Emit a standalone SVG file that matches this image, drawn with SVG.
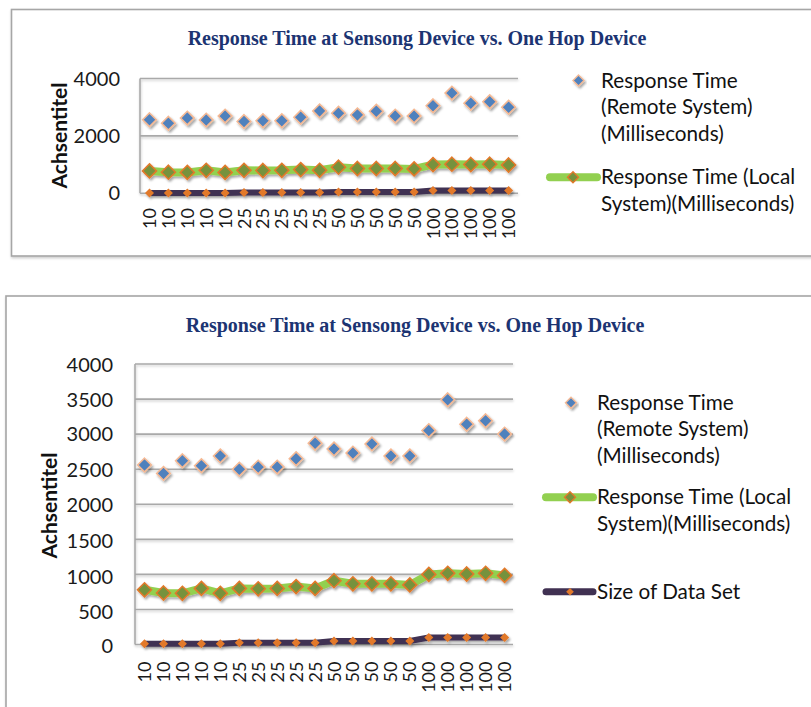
<svg xmlns="http://www.w3.org/2000/svg" xmlns:xlink="http://www.w3.org/1999/xlink" width="811" height="707" viewBox="0 0 811 707">
  <style>
    .frame { fill: #ffffff; stroke: #a6a6a6; stroke-width: 1.6; }
    .title { font-family: "Liberation Serif", serif; font-weight: bold; font-size: 20px; fill: #1c3472; text-anchor: middle; }
    .grid { stroke: #a9a9a9; stroke-width: 1.6; fill: none; }
    .ylab { font-family: Lato, "Liberation Sans", sans-serif; font-size: 20px; fill: #1a1a1a; text-anchor: end; }
    .xlab { font-family: Lato, "Liberation Sans", sans-serif; font-size: 18px; fill: #1a1a1a; text-anchor: end; }
    .atitle { font-family: Lato, "Liberation Sans", sans-serif; font-size: 21px; font-weight: bold; fill: #111111; text-anchor: middle; }
    .leg { font-family: Lato, "Liberation Sans", sans-serif; font-size: 20.7px; fill: #111111; }
    .lineLocal { stroke: #92d050; stroke-width: 8; fill: none; stroke-linejoin: round; }
    .lineSize { stroke: #403152; stroke-width: 6; fill: none; stroke-linejoin: round; }
    .legLocal { stroke: #92d050; stroke-width: 8; stroke-linecap: round; }
    .legSize { stroke: #403152; stroke-width: 7; stroke-linecap: round; }
  </style>
  <defs>
    <filter id="shadow" x="-20%" y="-20%" width="140%" height="160%">
      <feDropShadow dx="1.5" dy="2" stdDeviation="1.3" flood-color="#000000" flood-opacity="0.35"/>
    </filter>
    <filter id="softShadow" x="-5%" y="-50%" width="110%" height="300%">
      <feDropShadow dx="0.5" dy="1.5" stdDeviation="0.8" flood-color="#000000" flood-opacity="0.2"/>
    </filter>
    <path id="mRemote" d="M0,-6.8 L6.8,0 L0,6.8 L-6.8,0 Z" fill="#4f81bd" stroke="#f5b994" stroke-width="1.6"/>
    <path id="mLocal" d="M0,-7 L7,0 L0,7 L-7,0 Z" fill="#76923c" stroke="#e2792a" stroke-width="1.6"/>
    <path id="mSize" d="M0,-4.5 L4.5,0 L0,4.5 L-4.5,0 Z" fill="#e2792a"/>
    <path id="mRemoteLeg" d="M0,-5.5 L5.5,0 L0,5.5 L-5.5,0 Z" fill="#4f81bd" stroke="#f5b994" stroke-width="1.4"/>
    <path id="mLocalLeg" d="M0,-5.5 L5.5,0 L0,5.5 L-5.5,0 Z" fill="#76923c" stroke="#e2792a" stroke-width="1.4"/>
    <path id="mSizeLeg" d="M0,-3.8 L3.8,0 L0,3.8 L-3.8,0 Z" fill="#e2792a"/>
  </defs>

  <rect width="811" height="707" fill="#ffffff"/>

  <!-- ============ Upper chart ============ -->
  <g id="chart-top">
    <rect class="frame" x="11.5" y="9.5" width="830" height="246.5" filter="url(#softShadow)"/>
    <text class="title" x="417" y="45">Response Time at Sensong Device vs. One Hop Device</text>

    <g id="top-axes" filter="url(#softShadow)">
      <line class="grid" x1="140" y1="78.5" x2="518" y2="78.5"/>
      <line class="grid" x1="140" y1="135.9" x2="518" y2="135.9"/>
      <line class="grid" x1="140" y1="193.3" x2="518" y2="193.3"/>
      <line class="grid" x1="140" y1="78.5" x2="140" y2="193.3"/>
    </g>
    <g id="top-ylabels">
      <text class="ylab" x="120" y="85.5">4000</text>
      <text class="ylab" x="120" y="143">2000</text>
      <text class="ylab" x="120" y="200.3">0</text>
    </g>
    <text class="atitle" transform="translate(67,135.5) rotate(-90)">Achsentitel</text>

    <g id="top-xlabels">
      <text class="xlab" transform="translate(156,208) rotate(-90)">10</text>
      <text class="xlab" transform="translate(174.9,208) rotate(-90)">10</text>
      <text class="xlab" transform="translate(193.8,208) rotate(-90)">10</text>
      <text class="xlab" transform="translate(212.7,208) rotate(-90)">10</text>
      <text class="xlab" transform="translate(231.6,208) rotate(-90)">10</text>
      <text class="xlab" transform="translate(250.5,208) rotate(-90)">25</text>
      <text class="xlab" transform="translate(269.4,208) rotate(-90)">25</text>
      <text class="xlab" transform="translate(288.3,208) rotate(-90)">25</text>
      <text class="xlab" transform="translate(307.2,208) rotate(-90)">25</text>
      <text class="xlab" transform="translate(326.1,208) rotate(-90)">25</text>
      <text class="xlab" transform="translate(345,208) rotate(-90)">50</text>
      <text class="xlab" transform="translate(363.9,208) rotate(-90)">50</text>
      <text class="xlab" transform="translate(382.8,208) rotate(-90)">50</text>
      <text class="xlab" transform="translate(401.7,208) rotate(-90)">50</text>
      <text class="xlab" transform="translate(420.6,208) rotate(-90)">50</text>
      <text class="xlab" transform="translate(439.5,208) rotate(-90)">100</text>
      <text class="xlab" transform="translate(458.4,208) rotate(-90)">100</text>
      <text class="xlab" transform="translate(477.3,208) rotate(-90)">100</text>
      <text class="xlab" transform="translate(496.2,208) rotate(-90)">100</text>
      <text class="xlab" transform="translate(515.1,208) rotate(-90)">100</text>
    </g>

    <!-- Size of Data Set -->
    <g id="top-series-size" filter="url(#shadow)">
      <polyline class="lineSize" points="149.5,193 168.4,193 187.3,193 206.2,193 225.1,193 244,192.6 262.9,192.6 281.8,192.6 300.7,192.6 319.6,192.6 338.5,191.9 357.4,191.9 376.3,191.9 395.2,191.9 414.1,191.9 433,190.4 451.9,190.4 470.8,190.4 489.7,190.4 508.6,190.4"/>
      <use xlink:href="#mSize" x="149.5" y="193"/><use xlink:href="#mSize" x="168.4" y="193"/><use xlink:href="#mSize" x="187.3" y="193"/><use xlink:href="#mSize" x="206.2" y="193"/><use xlink:href="#mSize" x="225.1" y="193"/>
      <use xlink:href="#mSize" x="244" y="192.6"/><use xlink:href="#mSize" x="262.9" y="192.6"/><use xlink:href="#mSize" x="281.8" y="192.6"/><use xlink:href="#mSize" x="300.7" y="192.6"/><use xlink:href="#mSize" x="319.6" y="192.6"/>
      <use xlink:href="#mSize" x="338.5" y="191.9"/><use xlink:href="#mSize" x="357.4" y="191.9"/><use xlink:href="#mSize" x="376.3" y="191.9"/><use xlink:href="#mSize" x="395.2" y="191.9"/><use xlink:href="#mSize" x="414.1" y="191.9"/>
      <use xlink:href="#mSize" x="433" y="190.4"/><use xlink:href="#mSize" x="451.9" y="190.4"/><use xlink:href="#mSize" x="470.8" y="190.4"/><use xlink:href="#mSize" x="489.7" y="190.4"/><use xlink:href="#mSize" x="508.6" y="190.4"/>
    </g>

    <!-- Response Time (Local) -->
    <g id="top-series-local" filter="url(#shadow)">
      <polyline class="lineLocal" points="149.5,170.9 168.4,172.2 187.3,172.4 206.2,170.3 225.1,172.4 244,170.3 262.9,170.5 281.8,170.3 300.7,169.6 319.6,170.3 338.5,167.2 357.4,168.5 376.3,168.5 395.2,168.5 414.1,168.9 433,164.6 451.9,164.2 470.8,164.5 489.7,164.2 508.6,165"/>
      <use xlink:href="#mLocal" x="149.5" y="170.9"/><use xlink:href="#mLocal" x="168.4" y="172.2"/><use xlink:href="#mLocal" x="187.3" y="172.4"/><use xlink:href="#mLocal" x="206.2" y="170.3"/><use xlink:href="#mLocal" x="225.1" y="172.4"/>
      <use xlink:href="#mLocal" x="244" y="170.3"/><use xlink:href="#mLocal" x="262.9" y="170.5"/><use xlink:href="#mLocal" x="281.8" y="170.3"/><use xlink:href="#mLocal" x="300.7" y="169.6"/><use xlink:href="#mLocal" x="319.6" y="170.3"/>
      <use xlink:href="#mLocal" x="338.5" y="167.2"/><use xlink:href="#mLocal" x="357.4" y="168.5"/><use xlink:href="#mLocal" x="376.3" y="168.5"/><use xlink:href="#mLocal" x="395.2" y="168.5"/><use xlink:href="#mLocal" x="414.1" y="168.9"/>
      <use xlink:href="#mLocal" x="433" y="164.6"/><use xlink:href="#mLocal" x="451.9" y="164.2"/><use xlink:href="#mLocal" x="470.8" y="164.5"/><use xlink:href="#mLocal" x="489.7" y="164.2"/><use xlink:href="#mLocal" x="508.6" y="165"/>
    </g>

    <!-- Response Time (Remote) -->
    <g id="top-series-remote" filter="url(#shadow)">
      <use xlink:href="#mRemote" x="149.5" y="119.8"/><use xlink:href="#mRemote" x="168.4" y="123.3"/><use xlink:href="#mRemote" x="187.3" y="118.1"/><use xlink:href="#mRemote" x="206.2" y="120.1"/><use xlink:href="#mRemote" x="225.1" y="116.1"/>
      <use xlink:href="#mRemote" x="244" y="121.5"/><use xlink:href="#mRemote" x="262.9" y="120.7"/><use xlink:href="#mRemote" x="281.8" y="120.7"/><use xlink:href="#mRemote" x="300.7" y="117.2"/><use xlink:href="#mRemote" x="319.6" y="110.9"/>
      <use xlink:href="#mRemote" x="338.5" y="113.2"/><use xlink:href="#mRemote" x="357.4" y="114.9"/><use xlink:href="#mRemote" x="376.3" y="111.2"/><use xlink:href="#mRemote" x="395.2" y="116.1"/><use xlink:href="#mRemote" x="414.1" y="116.1"/>
      <use xlink:href="#mRemote" x="433" y="105.8"/><use xlink:href="#mRemote" x="451.9" y="93.1"/><use xlink:href="#mRemote" x="470.8" y="103.2"/><use xlink:href="#mRemote" x="489.7" y="101.7"/><use xlink:href="#mRemote" x="508.6" y="107.2"/>
    </g>

    <g id="top-legend">
      <use xlink:href="#mRemoteLeg" x="578.5" y="80.5" filter="url(#shadow)"/>
      <text class="leg" x="601" y="87.7">Response Time</text>
      <text class="leg" x="601" y="114.3">(Remote System)</text>
      <text class="leg" x="601" y="140.5">(Milliseconds)</text>
      <line class="legLocal" x1="550" y1="177.3" x2="597" y2="177.3"/>
      <use xlink:href="#mLocalLeg" x="573" y="177.3"/>
      <text class="leg" x="601" y="184">Response Time (Local</text>
      <text class="leg" x="601" y="210.5">System)(Milliseconds)</text>
    </g>
  </g>

  <!-- ============ Lower chart ============ -->
  <g id="chart-bottom">
    <rect class="frame" x="6" y="296" width="840" height="440" filter="url(#softShadow)"/>
    <text class="title" x="415" y="332">Response Time at Sensong Device vs. One Hop Device</text>

    <g id="bottom-axes" filter="url(#softShadow)">
      <line class="grid" x1="135" y1="364" x2="513" y2="364"/>
      <line class="grid" x1="135" y1="399.1" x2="513" y2="399.1"/>
      <line class="grid" x1="135" y1="434.1" x2="513" y2="434.1"/>
      <line class="grid" x1="135" y1="469.2" x2="513" y2="469.2"/>
      <line class="grid" x1="135" y1="504.3" x2="513" y2="504.3"/>
      <line class="grid" x1="135" y1="539.4" x2="513" y2="539.4"/>
      <line class="grid" x1="135" y1="574.4" x2="513" y2="574.4"/>
      <line class="grid" x1="135" y1="609.5" x2="513" y2="609.5"/>
      <line class="grid" x1="135" y1="644.5" x2="513" y2="644.5"/>
      <line class="grid" x1="135" y1="364" x2="135" y2="644.5"/>
    </g>
    <g id="bottom-ylabels">
      <text class="ylab" x="113" y="372">4000</text>
      <text class="ylab" x="113" y="407">3500</text>
      <text class="ylab" x="113" y="441">3000</text>
      <text class="ylab" x="113" y="476.5">2500</text>
      <text class="ylab" x="113" y="512">2000</text>
      <text class="ylab" x="113" y="547.5">1500</text>
      <text class="ylab" x="113" y="583.5">1000</text>
      <text class="ylab" x="113" y="618.5">500</text>
      <text class="ylab" x="113" y="652.5">0</text>
    </g>
    <text class="atitle" transform="translate(57,505.5) rotate(-90)">Achsentitel</text>

    <g id="bottom-xlabels">
      <text class="xlab" transform="translate(151,661.5) rotate(-90)">10</text>
      <text class="xlab" transform="translate(170,661.5) rotate(-90)">10</text>
      <text class="xlab" transform="translate(188.9,661.5) rotate(-90)">10</text>
      <text class="xlab" transform="translate(207.9,661.5) rotate(-90)">10</text>
      <text class="xlab" transform="translate(226.8,661.5) rotate(-90)">10</text>
      <text class="xlab" transform="translate(245.8,661.5) rotate(-90)">25</text>
      <text class="xlab" transform="translate(264.7,661.5) rotate(-90)">25</text>
      <text class="xlab" transform="translate(283.7,661.5) rotate(-90)">25</text>
      <text class="xlab" transform="translate(302.6,661.5) rotate(-90)">25</text>
      <text class="xlab" transform="translate(321.6,661.5) rotate(-90)">25</text>
      <text class="xlab" transform="translate(340.5,661.5) rotate(-90)">50</text>
      <text class="xlab" transform="translate(359.4,661.5) rotate(-90)">50</text>
      <text class="xlab" transform="translate(378.4,661.5) rotate(-90)">50</text>
      <text class="xlab" transform="translate(397.4,661.5) rotate(-90)">50</text>
      <text class="xlab" transform="translate(416.3,661.5) rotate(-90)">50</text>
      <text class="xlab" transform="translate(435.3,661.5) rotate(-90)">100</text>
      <text class="xlab" transform="translate(454.2,661.5) rotate(-90)">100</text>
      <text class="xlab" transform="translate(473.2,661.5) rotate(-90)">100</text>
      <text class="xlab" transform="translate(492.1,661.5) rotate(-90)">100</text>
      <text class="xlab" transform="translate(511.1,661.5) rotate(-90)">100</text>
    </g>

    <!-- Size of Data Set -->
    <g id="bottom-series-size" filter="url(#shadow)">
      <polyline class="lineSize" points="144.5,643.8 163.5,643.8 182.4,643.8 201.4,643.8 220.3,643.8 239.3,642.7 258.2,642.7 277.2,642.7 296.1,642.7 315.1,642.7 334,641 352.9,641 371.9,641 390.9,641 409.8,641 428.8,637.5 447.7,637.5 466.7,637.5 485.6,637.5 504.6,637.5"/>
      <use xlink:href="#mSize" x="144.5" y="643.8"/><use xlink:href="#mSize" x="163.5" y="643.8"/><use xlink:href="#mSize" x="182.4" y="643.8"/><use xlink:href="#mSize" x="201.4" y="643.8"/><use xlink:href="#mSize" x="220.3" y="643.8"/>
      <use xlink:href="#mSize" x="239.3" y="642.7"/><use xlink:href="#mSize" x="258.2" y="642.7"/><use xlink:href="#mSize" x="277.2" y="642.7"/><use xlink:href="#mSize" x="296.1" y="642.7"/><use xlink:href="#mSize" x="315.1" y="642.7"/>
      <use xlink:href="#mSize" x="334" y="641"/><use xlink:href="#mSize" x="352.9" y="641"/><use xlink:href="#mSize" x="371.9" y="641"/><use xlink:href="#mSize" x="390.9" y="641"/><use xlink:href="#mSize" x="409.8" y="641"/>
      <use xlink:href="#mSize" x="428.8" y="637.5"/><use xlink:href="#mSize" x="447.7" y="637.5"/><use xlink:href="#mSize" x="466.7" y="637.5"/><use xlink:href="#mSize" x="485.6" y="637.5"/><use xlink:href="#mSize" x="504.6" y="637.5"/>
    </g>

    <!-- Response Time (Local) -->
    <g id="bottom-series-local" filter="url(#shadow)">
      <polyline class="lineLocal" points="144.5,589.8 163.5,593 182.4,593.3 201.4,588.4 220.3,593.3 239.3,588.4 258.2,588.8 277.2,588.4 296.1,586.6 315.1,588.4 334,580.7 352.9,583.8 371.9,583.8 390.9,583.8 409.8,584.9 428.8,574.4 447.7,573.3 466.7,574 485.6,573.3 504.6,575.4"/>
      <use xlink:href="#mLocal" x="144.5" y="589.8"/><use xlink:href="#mLocal" x="163.5" y="593"/><use xlink:href="#mLocal" x="182.4" y="593.3"/><use xlink:href="#mLocal" x="201.4" y="588.4"/><use xlink:href="#mLocal" x="220.3" y="593.3"/>
      <use xlink:href="#mLocal" x="239.3" y="588.4"/><use xlink:href="#mLocal" x="258.2" y="588.8"/><use xlink:href="#mLocal" x="277.2" y="588.4"/><use xlink:href="#mLocal" x="296.1" y="586.6"/><use xlink:href="#mLocal" x="315.1" y="588.4"/>
      <use xlink:href="#mLocal" x="334" y="580.7"/><use xlink:href="#mLocal" x="352.9" y="583.8"/><use xlink:href="#mLocal" x="371.9" y="583.8"/><use xlink:href="#mLocal" x="390.9" y="583.8"/><use xlink:href="#mLocal" x="409.8" y="584.9"/>
      <use xlink:href="#mLocal" x="428.8" y="574.4"/><use xlink:href="#mLocal" x="447.7" y="573.3"/><use xlink:href="#mLocal" x="466.7" y="574"/><use xlink:href="#mLocal" x="485.6" y="573.3"/><use xlink:href="#mLocal" x="504.6" y="575.4"/>
    </g>

    <!-- Response Time (Remote) -->
    <g id="bottom-series-remote" filter="url(#shadow)">
      <use xlink:href="#mRemote" x="144.5" y="465"/><use xlink:href="#mRemote" x="163.5" y="473.4"/><use xlink:href="#mRemote" x="182.4" y="460.8"/><use xlink:href="#mRemote" x="201.4" y="465.7"/><use xlink:href="#mRemote" x="220.3" y="455.9"/>
      <use xlink:href="#mRemote" x="239.3" y="469.2"/><use xlink:href="#mRemote" x="258.2" y="467.1"/><use xlink:href="#mRemote" x="277.2" y="467.1"/><use xlink:href="#mRemote" x="296.1" y="458.7"/><use xlink:href="#mRemote" x="315.1" y="443.2"/>
      <use xlink:href="#mRemote" x="334" y="448.9"/><use xlink:href="#mRemote" x="352.9" y="453.1"/><use xlink:href="#mRemote" x="371.9" y="443.9"/><use xlink:href="#mRemote" x="390.9" y="455.9"/><use xlink:href="#mRemote" x="409.8" y="455.9"/>
      <use xlink:href="#mRemote" x="428.8" y="430.6"/><use xlink:href="#mRemote" x="447.7" y="399.8"/><use xlink:href="#mRemote" x="466.7" y="424.3"/><use xlink:href="#mRemote" x="485.6" y="420.8"/><use xlink:href="#mRemote" x="504.6" y="434.1"/>
    </g>

    <g id="bottom-legend">
      <use xlink:href="#mRemoteLeg" x="571" y="402.7" filter="url(#shadow)"/>
      <text class="leg" x="597" y="409.7">Response Time</text>
      <text class="leg" x="597" y="436.3">(Remote System)</text>
      <text class="leg" x="597" y="463">(Milliseconds)</text>
      <line class="legLocal" x1="546" y1="497.3" x2="593" y2="497.3"/>
      <use xlink:href="#mLocalLeg" x="570" y="497.3"/>
      <text class="leg" x="597" y="504.3">Response Time (Local</text>
      <text class="leg" x="597" y="530.5">System)(Milliseconds)</text>
      <line class="legSize" x1="546" y1="591.7" x2="593" y2="591.7"/>
      <use xlink:href="#mSizeLeg" x="570" y="591.7"/>
      <text class="leg" x="597" y="598.7">Size of Data Set</text>
    </g>
  </g>
</svg>
